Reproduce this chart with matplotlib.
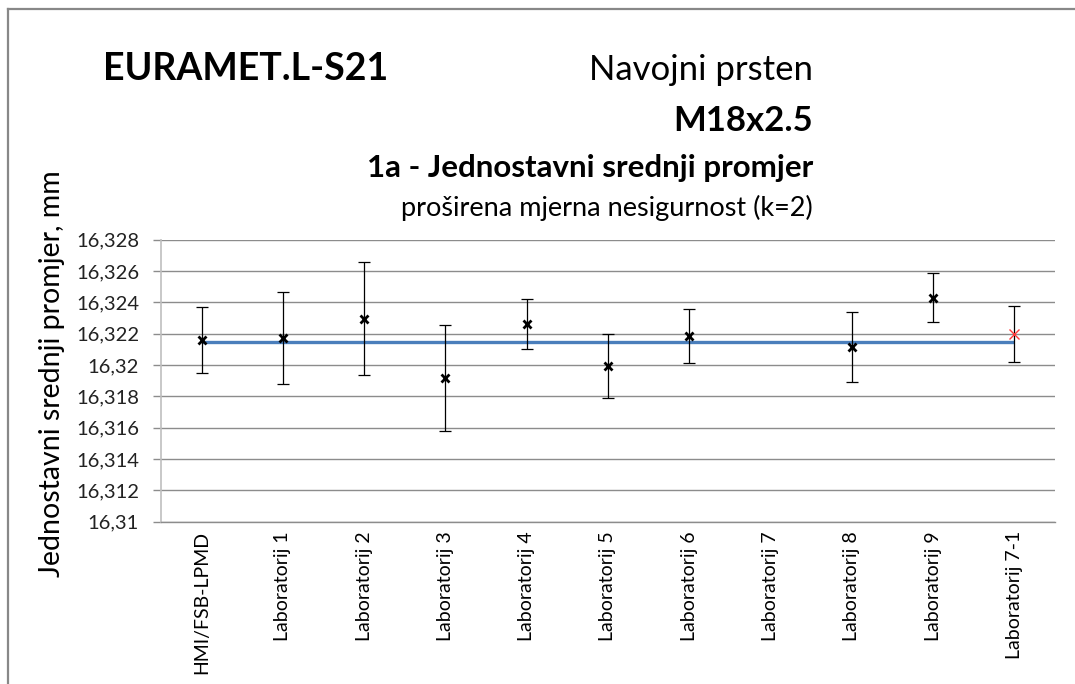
import numpy as np
import matplotlib
matplotlib.use("Agg")
import matplotlib.pyplot as plt
from matplotlib.lines import Line2D
from matplotlib.ticker import FixedLocator, FuncFormatter

# Participating laboratories
labs = ["HMI/FSB-LPMD", "Laboratorij 1", "Laboratorij 2", "Laboratorij 3",
        "Laboratorij 4", "Laboratorij 5", "Laboratorij 6", "Laboratorij 7",
        "Laboratorij 8", "Laboratorij 9", "Laboratorij 7-1"]

# Simple pitch diameter results, mm (Laboratorij 7 reported no value)
values = [16.32159, 16.32174, 16.32296, 16.31918, 16.32262, 16.31993,
          16.32185, np.nan, 16.32113, 16.32430, 16.32196]

# Expanded uncertainty (k=2), mm
uncert = [0.00209, 0.00295, 0.00360, 0.00340, 0.00160, 0.00202,
          0.00170, np.nan, 0.00222, 0.00157, 0.00180]

# Reference value, mm
reference_value = 16.32149

# Value axis ticks
y_ticks = [16.310, 16.312, 16.314, 16.316, 16.318, 16.320,
           16.322, 16.324, 16.326, 16.328]

W, H = 1075, 684
fig = plt.figure(figsize=(W / 100, H / 100), dpi=100)
plt.rcParams["font.family"] = ["Lato", "DejaVu Sans"]


def fx(px):
    return px / W


def fy(py):
    return 1 - py / H


ax_left, ax_right, ax_top, ax_bottom = 161, 1055, 239.7, 521.5
ax = fig.add_axes([fx(ax_left), fy(ax_bottom), fx(ax_right) - fx(ax_left),
                   fy(ax_top) - fy(ax_bottom)])

x = np.arange(len(labs))
vals = np.array(values)
unc = np.array(uncert)

# reference line
ax.plot(x, np.full(len(x), reference_value), color="#4a7ebb", lw=2.4,
        zorder=2, solid_capstyle="butt")

main = slice(0, len(labs) - 1)
ax.errorbar(x[main], vals[main], yerr=unc[main], fmt="none", ecolor="black",
            elinewidth=0.9, capsize=4, capthick=0.9, zorder=3)
ax.plot(x[main], vals[main], linestyle="none", marker="x", color="black",
        markersize=6, markeredgewidth=2.0, zorder=4)

# repeated measurement of Laboratorij 7
ax.errorbar(x[-1:], vals[-1:], yerr=unc[-1:], fmt="none", ecolor="black",
            elinewidth=0.9, capsize=4, capthick=0.9, zorder=3)
ax.plot(x[-1:], vals[-1:], linestyle="none", marker="x", color="#ff3b3b",
        markersize=7, markeredgewidth=1.0, zorder=4)

ax.set_xlim(-0.5, len(labs) - 0.5)
ax.set_ylim(y_ticks[0], y_ticks[-1])
ax.yaxis.set_major_locator(FixedLocator(y_ticks))


def comma_fmt(v, pos):
    s = ("%.3f" % v).rstrip("0").rstrip(".")
    return s.replace(".", ",")


ax.yaxis.set_major_formatter(FuncFormatter(comma_fmt))
ax.set_xticks(x)
ax.set_xticklabels(labs, rotation=90, fontsize=14, va="top", ha="center")
ax.tick_params(axis="x", length=0, pad=7)
ax.tick_params(axis="y", length=5.8, width=1.0, color="#8c8c8c",
               labelsize=14.5, pad=10, labelcolor="#222222")

ax.grid(axis="y", color="#8c8c8c", lw=1.0)
ax.set_axisbelow(True)
for side in ("top", "right"):
    ax.spines[side].set_visible(False)
ax.spines["left"].set_color("#bfbfbf")
ax.spines["left"].set_linewidth(1.2)
ax.spines["bottom"].set_color("#8c8c8c")
ax.spines["bottom"].set_linewidth(1.0)

ax.set_ylabel("Jednostavni srednji promjer, mm", fontsize=20.5)
ax.yaxis.set_label_coords((65 - ax_left) / (ax_right - ax_left),
                          (ax_bottom - 374) / (ax_bottom - ax_top))

# titles
fig.text(fx(103), fy(79.5), "EURAMET.L-S21", fontsize=27, fontweight="bold",
         ha="left", va="baseline")
fig.text(fx(813), fy(80), "Navojni prsten", fontsize=25, ha="right",
         va="baseline")
fig.text(fx(813), fy(131), "M18x2.5", fontsize=25, fontweight="bold",
         ha="right", va="baseline")
fig.text(fx(813), fy(177), "1a - Jednostavni srednji promjer", fontsize=22.5,
         fontweight="bold", ha="right", va="baseline")
fig.text(fx(813), fy(216), "proširena mjerna nesigurnost (k=2)", fontsize=19.5,
         ha="right", va="baseline")

# chart frame
fig.add_artist(Line2D([fx(8), 1], [fy(8.5), fy(8.5)], color="#888888", lw=1.6))
fig.add_artist(Line2D([fx(8), fx(8)], [fy(8.5), 0], color="#888888", lw=1.6))

fig.savefig("out.png", dpi=100)
